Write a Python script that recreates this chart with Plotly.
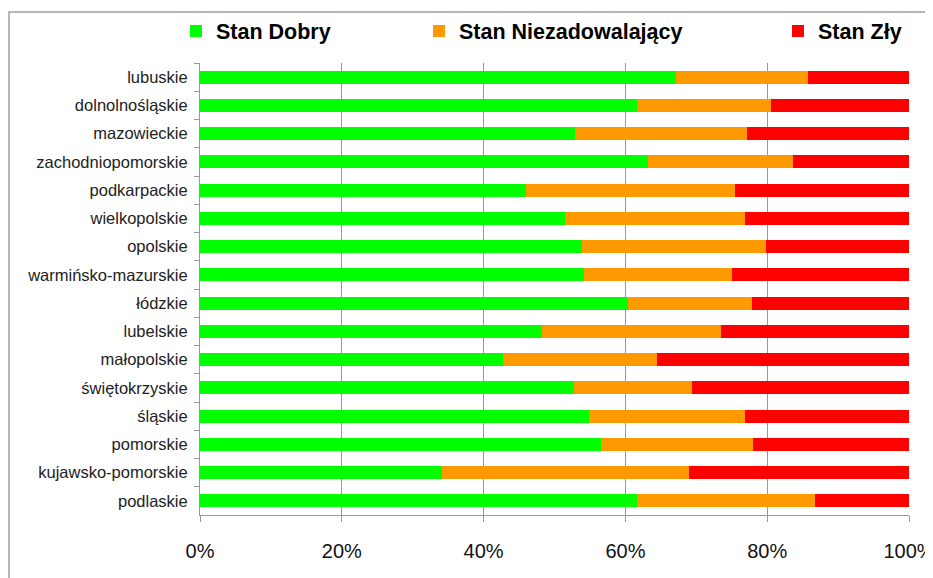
import plotly.graph_objects as go

regions = ["lubuskie", "dolnolnośląskie", "mazowieckie", "zachodniopomorskie",
           "podkarpackie", "wielkopolskie", "opolskie", "warmińsko-mazurskie",
           "łódzkie", "lubelskie", "małopolskie", "świętokrzyskie", "śląskie",
           "pomorskie", "kujawsko-pomorskie", "podlaskie"]

stan_dobry = [67.1, 61.7, 52.9, 63.2, 46.0, 51.5, 53.9, 54.2,
              60.4, 48.3, 42.8, 52.7, 54.8, 56.6, 34.2, 61.7]
stan_niezadowalajacy = [18.7, 18.9, 24.3, 20.5, 29.4, 25.4, 26.0, 20.9,
                        17.5, 25.2, 21.7, 16.7, 22.1, 21.4, 34.7, 25.0]
stan_zly = [14.2, 19.4, 22.8, 16.3, 24.6, 23.1, 20.1, 24.9,
            22.1, 26.5, 35.5, 30.6, 23.1, 22.0, 31.1, 13.3]

series = [("Stan Dobry", stan_dobry, "#00ff00", "legend"),
          ("Stan Niezadowalający", stan_niezadowalajacy, "#ff9900", "legend2"),
          ("Stan Zły", stan_zly, "#ff0000", "legend3")]

x_ticks = [0, 20, 40, 60, 80, 100]
x_tick_labels = ["0%", "20%", "40%", "60%", "80%", "100%"]

fig = go.Figure()
for name, vals, color, lg in series:
    fig.add_trace(go.Bar(
        y=regions, x=vals, name=name, orientation="h",
        marker=dict(color=color, line=dict(width=0)),
        width=0.46, legend=lg, showlegend=True,
    ))

W, H = 933, 578
OFF = 8  # page body margin offset
PL, PR, PT, PB = 200, 909, 63, 515  # target plot box on screen
L = PL - OFF
T = PT - OFF
R = W - (PR - OFF)
B = H - (PB - OFF)
pw, ph = W - L - R, H - T - B

def paper_x(p):
    return (p - OFF - L) / pw

def paper_y(p):
    return (H - B - (p - OFF)) / ph

def cont_x(p):
    return (p - OFF) / W

def cont_y(p):
    return 1 - (p - OFF) / H

legend_font = dict(family="Liberation Sans, Arial, sans-serif", size=21.5,
                   color="#000000", weight="bold")
common = dict(orientation="h", xanchor="left", yanchor="middle", font=legend_font,
              xref="container", yref="container", visible=True,
              bgcolor="rgba(0,0,0,0)", borderwidth=0, itemclick=False)

fig.update_layout(
    width=W, height=H,
    showlegend=True,
    margin=dict(l=L, r=R, t=T, b=B, pad=0, autoexpand=False),
    paper_bgcolor="white", plot_bgcolor="white",
    barmode="stack",
    font=dict(family="Liberation Sans, Arial, sans-serif", color="#222222"),
    legend=dict(x=cont_x(216 - 40), y=cont_y(31), **common),
    legend2=dict(x=cont_x(459 - 40), y=cont_y(31), **common),
    legend3=dict(x=cont_x(818 - 40), y=cont_y(31), **common),
    xaxis=dict(
        range=[0, 100], tickmode="array", tickvals=x_ticks, ticktext=x_tick_labels,
        showgrid=True, gridcolor="#999999", gridwidth=1,
        showline=True, linecolor="#999999", linewidth=1,
        ticks="outside", ticklen=6, tickcolor="#999999",
        tickfont=dict(size=20, color="#111111"), ticklabelstandoff=12,
        zeroline=False, fixedrange=True,
    ),
    yaxis=dict(
        autorange="reversed", type="category",
        showline=True, linecolor="#999999", linewidth=1,
        ticks="outside", ticklen=5, tickcolor="#999999", tickson="boundaries",
        tickfont=dict(size=16.5, color="#222222"), ticklabelstandoff=8,
        showgrid=False, fixedrange=True,
    ),
    shapes=[dict(type="rect", xref="paper", yref="paper",
                 x0=paper_x(9), x1=paper_x(W + 30), y0=paper_y(H + 30), y1=paper_y(12),
                 line=dict(color="#a0a0a0", width=1.5), fillcolor="rgba(0,0,0,0)",
                 layer="above")],
)

fig.write_html("out.html")
